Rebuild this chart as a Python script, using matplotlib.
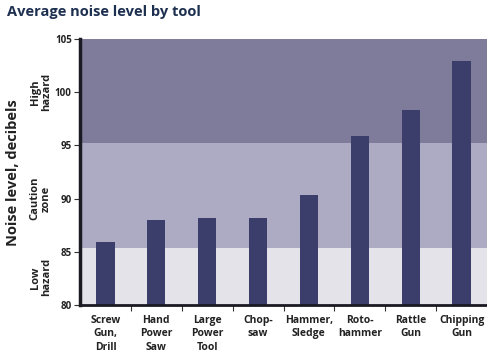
import numpy as np
import matplotlib
matplotlib.use('Agg')
import matplotlib.pyplot as plt

# data
tools = ['Screw\nGun,\nDrill', 'Hand\nPower\nSaw', 'Large\nPower\nTool', 'Chop-\nsaw',
         'Hammer,\nSledge', 'Roto-\nhammer', 'Rattle\nGun', 'Chipping\nGun']
noise_db = [85.9, 88.0, 88.2, 88.2, 90.3, 95.9, 98.3, 102.9]
zone_edges = [80, 85.4, 95.2, 105]
zone_names = ['Low\nhazard', 'Caution\nzone', 'High\nhazard']
zone_label_y = [82.6, 90.0, 100.0]
y_ticks = [80, 85, 90, 95, 100, 105]

zone_colors = ['#e4e3ea', '#adabc4', '#7f7b9b']
bar_color = '#3b3d6b'

plt.rcParams['font.family'] = ['Open Sans', 'DejaVu Sans']

fig = plt.figure(figsize=(4.87, 3.57), dpi=100)
ax = fig.add_axes([80/487, 52/357, 407/487, 266/357])

x = np.arange(len(tools))
# hazard zones as background bands
for i in range(len(zone_names)):
    ax.axhspan(zone_edges[i], zone_edges[i+1], color=zone_colors[i], lw=0, zorder=0)

ax.bar(x, noise_db, width=0.36, bottom=0, color=bar_color, zorder=2)

ax.set_xlim(-0.5, len(tools) - 0.5)
ax.set_ylim(80, 105)
ax.set_yticks(y_ticks)
ax.set_yticklabels([str(t) for t in y_ticks], fontsize=7, fontweight='bold', color='#222222')
ax.set_xticks(x)
ax.set_xticklabels(tools, fontsize=7.5, fontweight='bold', color='#222222', linespacing=1.3)
ax.set_xticks(np.arange(0.5, len(tools) - 0.5, 1), minor=True)
ax.tick_params(axis='x', which='major', length=0, pad=7)
ax.tick_params(axis='x', which='minor', length=4, width=0.8, color='#333333', direction='out')
ax.tick_params(axis='y', length=4, width=0.8, color='#333333', pad=2)

for s in ['top', 'right']:
    ax.spines[s].set_visible(False)
ax.spines['left'].set_linewidth(2.5)
ax.spines['left'].set_color('#1a1a22')
ax.spines['bottom'].set_linewidth(2.0)
ax.spines['bottom'].set_color('#1a1a22')

# zone labels, left of the tick labels
for name, yl in zip(zone_names, zone_label_y):
    ax.text(-1.27, yl, name, rotation=90, ha='center', va='center',
            fontsize=8, fontweight='bold', color='#222222', linespacing=1.05,
            clip_on=False)

fig.text(13/487, 1 - 173/357, 'Noise level, decibels', rotation=90, ha='center', va='center',
         fontsize=10.5, fontweight='bold', color='#222222')
fig.text(7/487, 1 - 12/357, 'Average noise level by tool', ha='left', va='center',
         fontsize=10.5, fontweight='bold', color='#1e3050')

fig.savefig('out.png', dpi=100)
